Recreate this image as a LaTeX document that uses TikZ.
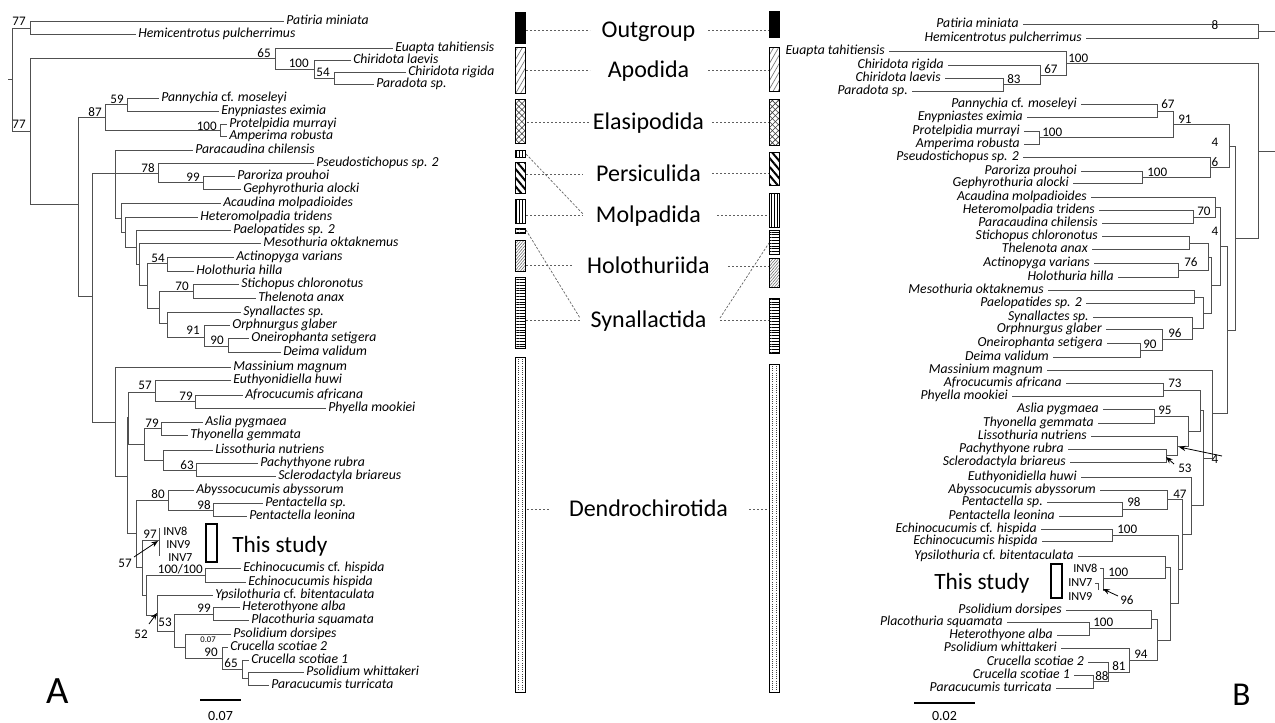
\documentclass[tikz,border=0pt]{standalone}
\usepackage{fontspec}
\setmainfont{Carlito}
\usetikzlibrary{patterns.meta,arrows.meta}
\definecolor{treegray}{RGB}{80,80,80}
\definecolor{dashgray}{RGB}{95,95,95}
\newcounter{tipn}
\newcommand\tipA[4]{\draw[tr] (#1,#3) -- (#2,#3); \stepcounter{tipn}\node[tA] (tip\arabic{tipn}) at (#2+3,#3) {#4};}
\newcommand\tipB[4]{\draw[tr] (#1,#3) -- (#2,#3); \stepcounter{tipn}\node[tB] (tip\arabic{tipn}) at (#1-4,#3) {#4};}
\newcommand\trH[3]{\draw[tr] (#1,#3) -- (#2,#3);}
\newcommand\trV[3]{\draw[tr] (#1,#2) -- (#1,#3);}
\newcommand\bsL[3]{\stepcounter{tipn}\node[bs,anchor=base east] (bs\arabic{tipn}) at (#1,#2) {#3};}
\newcommand\bsR[3]{\stepcounter{tipn}\node[bs,anchor=base west] (bs\arabic{tipn}) at (#1,#2) {#3};}
\newcommand\grpbar[4]{\draw[barst,#4] (#1,#2) rectangle (#1+10.5,#3);}
\newcommand\denbar[3]{\draw[barst] (#1,#2) rectangle (#1+10.5,#3);
  \draw[dotline] (#1+3.5,#2+2) -- (#1+3.5,#3-2);
  \draw[dotline] (#1+7,#2+2) -- (#1+7,#3-2);}
\begin{document}
\begin{tikzpicture}[x=0.75pt,y=-0.75pt,
  tr/.style={line width=0.75pt, draw=treegray, line cap=rect},
  tA/.style={anchor=west, inner sep=0, font=\fontsize{10.3}{12}\selectfont\itshape, text height=7.2pt, text depth=1.6pt},
  tB/.style={tA, anchor=east},
  bs/.style={inner sep=0, font=\fontsize{9.8}{11}\selectfont},
  inv/.style={inner sep=0, anchor=base west, font=\fontsize{9.2}{10}\selectfont},
  grp/.style={inner sep=0, anchor=base, font=\fontsize{18}{21}\selectfont},
  dsh/.style={draw=dashgray, line width=0.5pt, dash pattern=on 1.8pt off 1.2pt},
  barst/.style={draw=black, line width=0.75pt},
  dotline/.style={draw=black!75, line width=0.55pt, dash pattern=on 0.55pt off 1.1pt},
  callout/.style={draw=black, line width=0.6pt, -{Stealth[length=5pt,width=4pt]}},
  pOut/.style={fill=black},
  pApo/.style={pattern={Lines[angle=60,distance=3.2pt,line width=0.5pt]}, pattern color=black!55},
  pEla/.style={pattern={Hatch[angle=45,distance=3.2pt,line width=0.45pt]}, pattern color=black!75},
  pPer/.style={pattern={Lines[angle=-50,distance=4.2pt,line width=1.5pt]}, pattern color=black},
  pMol/.style={pattern={Lines[angle=90,distance=2.2pt,line width=0.6pt]}, pattern color=black},
  pHol/.style={pattern={Lines[angle=50,distance=1.6pt,line width=0.4pt]}, pattern color=black!60},
  pSyn/.style={pattern={Lines[angle=0,distance=2.1pt,line width=0.7pt]}, pattern color=black}
]
\useasboundingbox (0,0) rectangle (1275,722);
\fill[white] (0,0) rectangle (1275,722);

%%%%%%%%%%%%%%%% TREE A %%%%%%%%%%%%%%%%
\trH{8}{12}{79}
\trV{12}{28}{131}
% outgroup
\trH{12}{30}{28} \trV{30}{21}{34}
\tipA{30}{283}{21}{Patiria miniata}
\tipA{30}{135}{34}{Hemicentrotus pulcherrimus}
\bsL{26}{25}{77}
% ingroup
\trH{12}{30}{131} \trV{30}{58}{204}
\bsL{26}{128}{77}
% Apodida
\trH{30}{275}{58} \trV{275}{48}{69}
\bsL{271}{57}{65}
\tipA{275}{392}{48}{Euapta tahitiensis}
\trH{275}{314}{69} \trV{314}{60}{78}
\bsL{309}{67}{100}
\tipA{314}{350}{60}{Chiridota laevis}
\trH{314}{334}{78} \trV{334}{72}{84}
\bsL{330}{76}{54}
\tipA{334}{405}{72}{Chiridota rigida}
\tipA{334}{373}{84}{Paradota sp.}
% rest
\trH{30}{78}{204} \trV{78}{117}{296}
% Elasipodida
\trH{78}{105}{117} \trV{105}{104}{130}
\bsL{102}{116}{87}
\trH{105}{127}{104} \trV{127}{98}{111}
\bsL{124}{103}{59}
\tipA{127}{158}{98}{Pannychia {\upshape cf.} moseleyi}
\tipA{127}{218}{111}{Enypniastes eximia}
\trH{105}{220}{130} \trV{220}{124}{136}
\bsL{217}{130}{100}
\tipA{220}{226}{124}{Protelpidia murrayi}
\tipA{220}{226}{136}{Amperima robusta}
% big clade
\trH{78}{92}{296} \trV{92}{173}{422}
\trH{92}{158}{173} \trV{115}{150}{218}
\tipA{115}{192}{150}{Paracaudina chilensis}
\bsL{155}{172}{78}
\trV{158}{163}{182}
\tipA{158}{313}{163}{Pseudostichopus sp. 2}
\trH{158}{203}{182} \trV{203}{176}{189}
\bsL{200}{181}{99}
\tipA{203}{234}{176}{Paroriza prouhoi}
\tipA{203}{240}{189}{Gephyrothuria alocki}
\trH{115}{121}{218} \trV{121}{203}{232}
\tipA{121}{220}{203}{Acaudina molpadioides}
\trH{121}{125}{232} \trV{125}{217}{247}
\tipA{125}{197}{217}{Heteromolpadia tridens}
\trH{125}{136}{247} \trV{136}{230}{264}
\tipA{136}{230}{230}{Paelopatides sp. 2}
\trH{136}{139}{264} \trV{139}{243}{285}
\tipA{139}{260}{243}{Mesothuria oktaknemus}
\trH{139}{147}{285} \trV{147}{263}{308}
\trH{147}{167}{263} \trV{167}{257}{271}
\bsL{165}{262}{54}
\tipA{167}{233}{257}{Actinopyga varians}
\tipA{167}{193}{271}{Holothuria hilla}
\trH{147}{159}{308} \trV{159}{291}{323}
\trH{159}{193}{291} \trV{193}{284}{298}
\bsL{189}{290}{70}
\tipA{193}{238}{284}{Stichopus chloronotus}
\tipA{193}{255}{298}{Thelenota anax}
\trH{159}{167}{323} \trV{167}{312}{337}
\tipA{167}{240}{312}{Synallactes sp.}
\trH{167}{204}{337} \trV{204}{325}{346}
\bsL{200}{334}{91}
\tipA{204}{229}{325}{Orphnurgus glaber}
\trH{204}{228}{346} \trV{228}{338}{352}
\bsL{224}{344}{90}
\tipA{228}{248}{338}{Oneirophanta setigera}
\tipA{228}{280}{352}{Deima validum}
% Dendrochirotida
\trH{92}{115}{422} \trV{115}{367}{476}
\tipA{115}{230}{367}{Massinium magnum}
\trH{115}{127}{476} \trV{127}{417}{533}
\trH{127}{128}{417} \trV{128}{392}{444}
\trH{128}{155}{392} \trV{155}{380}{401}
\bsL{152}{389}{57}
\tipA{155}{230}{380}{Euthyonidiella huwi}
\trH{155}{195}{401} \trV{195}{395}{408}
\bsL{193}{400}{79}
\tipA{195}{242}{395}{Afrocucumis africana}
\tipA{195}{325}{408}{Phyella mookiei}
\trH{128}{144}{444} \trV{144}{428}{460}
\trH{144}{161}{428} \trV{161}{422}{435}
\bsL{159}{427}{79}
\tipA{161}{202}{422}{Aslia pygmaea}
\tipA{161}{187}{435}{Thyonella gemmata}
\trH{144}{163}{460} \trV{163}{450}{470}
\tipA{163}{212}{450}{Lissothuria nutriens}
\trH{163}{196}{470} \trV{196}{463}{476}
\bsL{194}{469}{63}
\tipA{196}{257}{463}{Pachythyone rubra}
\tipA{196}{275}{476}{Sclerodactyla briareus}
\trH{127}{136}{533} \trV{136}{500}{567}
\trH{136}{168}{500} \trV{168}{490}{510}
\bsL{165}{498}{80}
\tipA{168}{193}{490}{Abyssocucumis abyssorum}
\trH{168}{213}{510} \trV{213}{503}{516}
\bsL{211}{509}{98}
\tipA{213}{262}{503}{Pentactella sp.}
\tipA{213}{246}{516}{Pentactella leonina}
\trH{136}{142}{567} \trV{142}{540}{595}
\trH{142}{159}{540} \trV{159}{528}{555}
\bsL{157}{538}{97}
\node[inv] (inv8a) at (163,535) {INV8};
\node[inv] (inv9a) at (166,548) {INV9};
\node[inv] (inv7a) at (168,561) {INV7};
\bsL{132}{567}{57}
\coordinate (a57s) at (134,557);
\coordinate (a57e) at (158,541);
\draw[callout] (a57s) -- (a57e);
\trH{142}{146}{595} \trV{146}{575}{615}
\trH{146}{205}{575} \trV{205}{568}{582}
\bsL{203}{573}{100/100}
\tipA{205}{240}{568}{Echinocucumis {\upshape cf.} hispida}
\tipA{205}{245}{582}{Echinocucumis hispida}
\trH{146}{157}{615} \trV{157}{595}{631}
\tipA{157}{212}{595}{Ypsilothuria {\upshape cf.} bitentaculata}
\bsL{148}{638}{52}
\coordinate (a52s) at (149,624);
\coordinate (a52e) at (157,613);
\draw[callout] (a52s) -- (a52e);
\trH{157}{174}{631} \trV{174}{614}{647}
\bsL{172}{626}{53}
\trH{174}{213}{614} \trV{213}{607}{620}
\bsL{211}{612}{99}
\tipA{213}{239}{607}{Heterothyone alba}
\tipA{213}{248}{620}{Placothuria squamata}
\trH{174}{185}{647} \trV{185}{634}{658}
\tipA{185}{230}{634}{Psolidium dorsipes}
\node[inner sep=0, anchor=base east, font=\fontsize{6.5}{7}\selectfont] (small007) at (216,642) {0.07};
\trH{185}{222}{658} \trV{222}{647}{669}
\bsL{218}{656}{90}
\tipA{222}{227}{647}{Crucella scotiae 2}
\trH{222}{242}{669} \trV{242}{660}{678}
\bsL{238}{667}{65}
\tipA{242}{248}{660}{Crucella scotiae 1}
\trH{242}{248}{678} \trV{248}{672}{685}
\tipA{248}{303}{672}{Psolidium whittakeri}
\tipA{248}{268}{685}{Paracucumis turricata}
% This study A
\draw[line width=1.1pt] (206,524) rectangle (217,562);
\node[inner sep=0, anchor=base west, font=\fontsize{17.5}{20}\selectfont] (studyA) at (232,552) {This study};
% scale A
\coordinate (sa1) at (200,700); \coordinate (sa2) at (241,700);
\draw[line width=1.5pt] (sa1) -- (sa2);
\node[inner sep=0, anchor=base, font=\fontsize{10.5}{12}\selectfont] (scaleA) at (220.5,720) {0.07};
\node[inner sep=0, anchor=base west, font=\fontsize{29}{32}\selectfont] (labA) at (46,703) {A};

%%%%%%%%%%%%%%%% MIDDLE %%%%%%%%%%%%%%%%
% left bars
\grpbar{515}{12}{43}{pOut}
\grpbar{515}{47}{93}{pApo}
\grpbar{515}{99}{143}{pEla}
\grpbar{515}{150}{157}{pMol}
\grpbar{515}{162}{193}{pPer}
\grpbar{515}{199}{223}{pMol}
\grpbar{515}{228}{233}{pSyn}
\grpbar{515}{240}{271}{pHol}
\grpbar{515}{277}{348}{pSyn}
\denbar{515}{357}{692}
% right bars
\grpbar{769}{11}{37}{pOut}
\grpbar{769}{47}{91}{pApo}
\grpbar{769}{99}{145}{pEla}
\grpbar{769}{152}{185}{pPer}
\grpbar{769}{193}{227}{pMol}
\grpbar{769}{230}{254}{pSyn}
\grpbar{769}{258}{287}{pHol}
\grpbar{769}{298}{353}{pSyn}
\denbar{769}{364}{692}
% labels
\node[grp] (gOut) at (648.5,37) {Outgroup};
\node[grp] (gApo) at (648.5,77) {Apodida};
\node[grp] (gEla) at (648.5,129) {Elasipodida};
\node[grp] (gPer) at (648.5,181) {Persiculida};
\node[grp] (gMol) at (648.5,222) {Molpadida};
\node[grp] (gHol) at (648.5,273) {Holothuriida};
\node[grp] (gSyn) at (648.5,327) {Synallactida};
\node[grp] (gDen) at (648.5,516) {Dendrochirotida};
% connector end points
\coordinate (oL1) at (526,30); \coordinate (oL2) at (590,30);
\coordinate (oR1) at (708,30); \coordinate (oR2) at (769,30);
\coordinate (aL1) at (526,70); \coordinate (aL2) at (590,70);
\coordinate (aR1) at (708,70); \coordinate (aR2) at (769,70);
\coordinate (eL1) at (527,122); \coordinate (eL2) at (590,122);
\coordinate (eR1) at (712,122); \coordinate (eR2) at (769,122);
\coordinate (pL1) at (526,174); \coordinate (pL2) at (583,174);
\coordinate (pR1) at (712,173); \coordinate (pR2) at (769,173);
\coordinate (mL1) at (526,215); \coordinate (mL2) at (583,215);
\coordinate (mR1) at (717,215); \coordinate (mR2) at (769,215);
\coordinate (mD1) at (526,154); \coordinate (mD2) at (583,214);
\coordinate (hL1) at (526,265); \coordinate (hL2) at (572,265);
\coordinate (hR1) at (728,266); \coordinate (hR2) at (769,266);
\coordinate (sL1) at (526,320); \coordinate (sL2) at (580,320);
\coordinate (sR1) at (720,320); \coordinate (sR2) at (769,320);
\coordinate (sD1) at (526,230); \coordinate (sD2) at (580,318);
\coordinate (sD3) at (720,318); \coordinate (sD4) at (769,243);
\coordinate (dL1) at (527,509); \coordinate (dL2) at (550,509);
\coordinate (dR1) at (749,509); \coordinate (dR2) at (769,509);
\draw[dsh] (oL1) -- (oL2); \draw[dsh] (oR1) -- (oR2);
\draw[dsh] (aL1) -- (aL2); \draw[dsh] (aR1) -- (aR2);
\draw[dsh] (eL1) -- (eL2); \draw[dsh] (eR1) -- (eR2);
\draw[dsh] (pL1) -- (pL2); \draw[dsh] (pR1) -- (pR2);
\draw[dsh] (mL1) -- (mL2); \draw[dsh] (mR1) -- (mR2); \draw[dsh] (mD1) -- (mD2);
\draw[dsh] (hL1) -- (hL2); \draw[dsh] (hR1) -- (hR2);
\draw[dsh] (sL1) -- (sL2); \draw[dsh] (sR1) -- (sR2); \draw[dsh] (sD1) -- (sD2); \draw[dsh] (sD3) -- (sD4);
\draw[dsh] (dL1) -- (dL2); \draw[dsh] (dR1) -- (dR2);

%%%%%%%%%%%%%%%% TREE B %%%%%%%%%%%%%%%%
\tipB{1023}{1258}{24}{Patiria miniata}
\tipB{1086}{1258}{38}{Hemicentrotus pulcherrimus}
\trV{1258}{24}{38} \trH{1258}{1275}{31}
\node[bs,anchor=base] (b8) at (1215,29) {8};
\tipB{889}{1066}{51}{Euapta tahitiensis}
\tipB{948}{1040}{65}{Chiridota rigida}
\tipB{945}{1003}{78}{Chiridota laevis}
\tipB{912}{1003}{91}{Paradota sp.}
\trV{1003}{78}{91} \trH{1003}{1040}{84.5}
\bsR{1007}{83}{83}
\trV{1040}{65}{84.5} \trH{1040}{1066}{75}
\bsR{1044}{73}{67}
\trV{1066}{51}{75} \trH{1066}{1258}{63}
\bsR{1068}{62}{100}
\trV{1258}{63}{238} \trH{1258}{1275}{151}
\tipB{1081}{1157}{104}{Pannychia {\upshape cf.} moseleyi}
\tipB{1027}{1157}{117}{Enypniastes eximia}
\trV{1157}{104}{117} \trH{1157}{1173}{111}
\bsR{1161}{108}{67}
\tipB{1024}{1039}{131}{Protelpidia murrayi}
\tipB{1024}{1039}{144}{Amperima robusta}
\trV{1039}{131}{144} \trH{1039}{1173}{137}
\bsR{1042}{136}{100}
\trV{1173}{111}{137} \trH{1173}{1229}{124}
\bsR{1178}{123}{91}
\tipB{1023}{1210}{157}{Pseudostichopus sp. 2}
\tipB{1081}{1142}{171}{Paroriza prouhoi}
\tipB{1073}{1142}{183}{Gephyrothuria alocki}
\trV{1142}{171}{183} \trH{1142}{1210}{177}
\bsR{1147}{176}{100}
\trV{1210}{157}{177} \trH{1210}{1229}{167}
\node[bs,anchor=base] (b6) at (1215,166) {6};
\trV{1229}{124}{167} \trH{1229}{1235}{146}
\node[bs,anchor=base] (b4a) at (1215,146) {4};
\trV{1235}{146}{330} \trH{1235}{1258}{238}
\tipB{1091}{1215}{197}{Acaudina molpadioides}
\tipB{1099}{1193}{210}{Heteromolpadia tridens}
\tipB{1102}{1193}{223}{Paracaudina chilensis}
\trV{1193}{210}{223} \trH{1193}{1215}{217}
\bsR{1197}{215}{70}
\trV{1215}{197}{217} \trH{1215}{1220}{207}
\trV{1220}{207}{285} \trH{1220}{1227}{246}
\node[bs,anchor=base] (b4b) at (1215,235) {4};
\trV{1227}{246}{413} \trH{1227}{1235}{330}
\tipB{1102}{1189}{236}{Stichopus chloronotus}
\tipB{1092}{1189}{249}{Thelenota anax}
\trV{1189}{236}{249} \trH{1189}{1208}{243}
\tipB{1094}{1178}{263}{Actinopyga varians}
\tipB{1118}{1178}{277}{Holothuria hilla}
\trV{1178}{263}{277} \trH{1178}{1208}{270}
\bsR{1184}{266}{76}
\trV{1208}{243}{270} \trH{1208}{1211}{257}
\trV{1211}{257}{313} \trH{1211}{1220}{285}
\tipB{1048}{1194}{290}{Mesothuria oktaknemus}
\tipB{1086}{1194}{303}{Paelopatides sp. 2}
\trV{1194}{290}{303} \trH{1194}{1203}{297}
\tipB{1093}{1192}{317}{Synallactes sp.}
\tipB{1106}{1162}{329}{Orphnurgus glaber}
\tipB{1107}{1140}{343}{Oneirophanta setigera}
\tipB{1053}{1140}{357}{Deima validum}
\trV{1140}{343}{357} \trH{1140}{1162}{350}
\bsR{1143}{348}{90}
\trV{1162}{329}{350} \trH{1162}{1192}{339}
\bsR{1168}{337}{96}
\trV{1192}{317}{339} \trH{1192}{1203}{328}
\trV{1203}{297}{328} \trH{1203}{1211}{313}
\tipB{1047}{1212}{370}{Massinium magnum}
\trV{1212}{370}{458} \trH{1212}{1227}{413}
\tipB{1066}{1163}{383}{Afrocucumis africana}
\tipB{1012}{1163}{396}{Phyella mookiei}
\trV{1163}{383}{396} \trH{1163}{1200}{390}
\bsR{1168}{387}{73}
\tipB{1103}{1154}{409}{Aslia pygmaea}
\tipB{1098}{1154}{423}{Thyonella gemmata}
\trV{1154}{409}{423} \trH{1154}{1188}{416}
\bsR{1158}{414}{95}
\tipB{1091}{1177}{436}{Lissothuria nutriens}
\tipB{1068}{1166}{449}{Pachythyone rubra}
\tipB{1070}{1166}{462}{Sclerodactyla briareus}
\trV{1166}{449}{462} \trH{1166}{1177}{455}
\trV{1177}{436}{455} \trH{1177}{1188}{446}
\trV{1188}{416}{446} \trH{1188}{1200}{431}
\trV{1200}{390}{431} \trH{1200}{1203}{410}
\trV{1203}{410}{505} \trH{1203}{1212}{458}
\node[bs,anchor=base] (b4c) at (1215,463) {4};
\coordinate (b4s) at (1222,456); \coordinate (b4e) at (1179,447);
\draw[callout] (b4s) -- (b4e);
\bsR{1178}{472}{53}
\coordinate (b53s) at (1174,464); \coordinate (b53e) at (1166,457);
\draw[callout] (b53s) -- (b53e);
\tipB{1081}{1191}{477}{Euthyonidiella huwi}
\tipB{1100}{1167}{490}{Abyssocucumis abyssorum}
\tipB{1047}{1122}{502}{Pentactella sp.}
\tipB{1059}{1122}{516}{Pentactella leonina}
\trV{1122}{502}{516} \trH{1122}{1167}{509}
\bsR{1127}{506}{98}
\trV{1167}{490}{509} \trH{1167}{1182}{499}
\bsR{1173}{498}{47}
\tipB{1041}{1112}{529}{Echinocucumis {\upshape cf.} hispida}
\tipB{1042}{1112}{541}{Echinocucumis hispida}
\trV{1112}{529}{541} \trH{1112}{1178}{535}
\bsR{1117}{533}{100}
\tipB{1078}{1165}{556}{Ypsilothuria {\upshape cf.} bitentaculata}
\node[inv] (inv8b) at (1073,572) {INV8};
\node[inv] (inv7b) at (1068,586) {INV7};
\node[inv] (inv9b) at (1068,600) {INV9};
\trH{1100}{1103}{568} \trV{1103}{568}{590}
\trH{1095}{1098}{583} \trV{1098}{583}{589}
\trH{1103}{1165}{578}
\bsR{1108}{576}{100}
\bsR{1120}{604}{96}
\coordinate (b96s) at (1118,596); \coordinate (b96e) at (1103,589);
\draw[callout] (b96s) -- (b96e);
\trV{1165}{556}{578} \trH{1165}{1170}{567}
\tipB{1066}{1151}{610}{Psolidium dorsipes}
\tipB{1007}{1089}{622}{Placothuria squamata}
\tipB{1057}{1089}{635}{Heterothyone alba}
\trV{1089}{622}{635} \trH{1089}{1151}{628}
\bsR{1093}{626}{100}
\trV{1151}{610}{628} \trH{1151}{1157}{619}
\tipB{1061}{1129}{648}{Psolidium whittakeri}
\tipB{1088}{1108}{662}{Crucella scotiae 2}
\tipB{1074}{1093}{675}{Crucella scotiae 1}
\tipB{1056}{1093}{688}{Paracucumis turricata}
\trV{1093}{675}{688} \trH{1093}{1108}{681}
\bsR{1095}{680}{88}
\trV{1108}{662}{681} \trH{1108}{1129}{672}
\bsR{1112}{670}{81}
\trV{1129}{648}{672} \trH{1129}{1157}{660}
\bsR{1134}{658}{94}
\trV{1157}{619}{660} \trH{1157}{1170}{640}
\trV{1170}{567}{640} \trH{1170}{1178}{603}
\trV{1178}{535}{603} \trH{1178}{1182}{569}
\trV{1182}{499}{569} \trH{1182}{1191}{534}
\trV{1191}{477}{534} \trH{1191}{1203}{505}
% This study B
\draw[line width=1.1pt] (1051,564) rectangle (1062,598);
\node[inner sep=0, anchor=base west, font=\fontsize{17.5}{20}\selectfont] (studyB) at (934,589) {This study};
% scale B
\coordinate (sb1) at (914,703); \coordinate (sb2) at (975,703);
\draw[line width=1.5pt] (sb1) -- (sb2);
\node[inner sep=0, anchor=base, font=\fontsize{10.5}{12}\selectfont] (scaleB) at (944.5,720) {0.02};
\node[inner sep=0, anchor=base west, font=\fontsize{25}{28}\selectfont] (labB) at (1232,705) {B};
\end{tikzpicture}
\end{document}
